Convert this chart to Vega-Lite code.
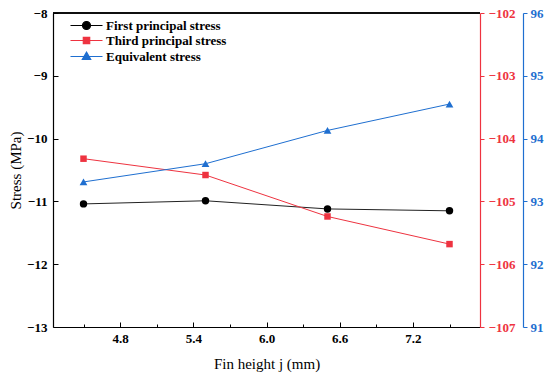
{
  "$schema": "https://vega.github.io/schema/vega-lite/v6.json",
  "width": 427,
  "height": 314,
  "autosize": "none",
  "padding": {"left": 53, "top": 13, "right": 70, "bottom": 50},
  "background": "white",
  "config": {
    "view": {"stroke": null},
    "font": "Liberation Serif",
    "axis": {
      "grid": false,
      "labelFont": "Liberation Serif",
      "labelFontWeight": "bold",
      "labelFontSize": 13,
      "titleFont": "Liberation Serif",
      "titleFontWeight": "normal",
      "titleFontSize": 15,
      "titleColor": "black",
      "domainWidth": 1.2,
      "tickWidth": 1,
      "labelFlush": false,
      "labelOverlap": false
    }
  },
  "data": {
    "values": [
      {"series": "First principal stress", "height": 4.5, "stress": -11.04},
      {"series": "First principal stress", "height": 5.5, "stress": -10.99},
      {"series": "First principal stress", "height": 6.5, "stress": -11.12},
      {"series": "First principal stress", "height": 7.5, "stress": -11.15},
      {"series": "Third principal stress", "height": 4.5, "stress": -104.32},
      {"series": "Third principal stress", "height": 5.5, "stress": -104.58},
      {"series": "Third principal stress", "height": 6.5, "stress": -105.24},
      {"series": "Third principal stress", "height": 7.5, "stress": -105.68},
      {"series": "Equivalent stress", "height": 4.5, "stress": 93.31},
      {"series": "Equivalent stress", "height": 5.5, "stress": 93.60},
      {"series": "Equivalent stress", "height": 6.5, "stress": 94.13},
      {"series": "Equivalent stress", "height": 7.5, "stress": 94.55}
    ]
  },
  "encoding": {
    "x": {
      "field": "height",
      "type": "quantitative",
      "scale": {"domain": [4.25, 7.75], "nice": false, "zero": false},
      "axis": {
        "title": "Fin height j (mm)",
        "values": [4.5, 4.8, 5.1, 5.4, 5.7, 6.0, 6.3, 6.6, 6.9, 7.2, 7.5],
        "labelExpr": "round(datum.value*10) % 6 == 0 ? format(datum.value, '.1f') : ''",
        "tickSize": {"condition": {"test": "round(datum.value*10) % 6 == 0", "value": -5}, "value": -3},
        "domainColor": "black",
        "tickColor": "black",
        "labelColor": "black",
        "labelFont": "Liberation Serif",
        "labelPadding": 10,
        "titlePadding": 9
      }
    }
  },
  "layer": [
    {
      "transform": [{"filter": "datum.series == 'First principal stress'"}],
      "encoding": {
        "y": {
          "field": "stress",
          "type": "quantitative",
          "scale": {"domain": [-13, -8], "nice": false, "zero": false},
          "axis": {
            "orient": "left",
            "title": "Stress (MPa)",
            "values": [-13, -12.5, -12, -11.5, -11, -10.5, -10, -9.5, -9, -8.5, -8],
            "format": "d",
            "labelExpr": "datum.value % 1 == 0 ? datum.label : ''",
            "tickSize": {"condition": {"test": "datum.value % 1 == 0", "value": -5}, "value": -3},
            "domainColor": "black",
            "tickColor": "black",
            "labelColor": "black",
            "labelFont": "Liberation Serif",
            "labelPadding": 11,
            "titlePadding": 3
          }
        }
      },
      "layer": [
        {
          "mark": {"type": "rule", "color": "black", "strokeWidth": 1.2},
          "encoding": {"x": {"datum": 4.25}, "x2": {"datum": 7.75}, "y": {"datum": -8}}
        },
        {"mark": {"type": "line", "color": "#222222", "strokeWidth": 1}},
        {"mark": {"type": "point", "shape": "circle", "filled": true, "color": "black", "size": 55, "opacity": 1}}
      ]
    },
    {
      "transform": [{"filter": "datum.series == 'Third principal stress'"}],
      "encoding": {
        "y": {
          "field": "stress",
          "type": "quantitative",
          "scale": {"domain": [-107, -102], "nice": false, "zero": false},
          "axis": {
            "orient": "right",
            "title": null,
            "values": [-107, -106.5, -106, -105.5, -105, -104.5, -104, -103.5, -103, -102.5, -102],
            "format": "d",
            "labelExpr": "datum.value % 1 == 0 ? datum.label : ''",
            "tickSize": {"condition": {"test": "datum.value % 1 == 0", "value": 4}, "value": -3},
            "domainColor": "#EE3340",
            "tickColor": "#EE3340",
            "labelColor": "#EE3340",
            "labelFont": "Liberation Serif",
            "labelPadding": 4
          }
        }
      },
      "layer": [
        {"mark": {"type": "line", "color": "#EE3340", "strokeWidth": 1}},
        {"mark": {"type": "point", "shape": "square", "filled": true, "color": "#EE3340", "size": 42, "opacity": 1}}
      ]
    },
    {
      "transform": [{"filter": "datum.series == 'Equivalent stress'"}],
      "encoding": {
        "y": {
          "field": "stress",
          "type": "quantitative",
          "scale": {"domain": [91, 96], "nice": false, "zero": false},
          "axis": {
            "orient": "right",
            "offset": 43,
            "title": null,
            "values": [91, 91.5, 92, 92.5, 93, 93.5, 94, 94.5, 95, 95.5, 96],
            "format": "d",
            "labelExpr": "datum.value % 1 == 0 ? datum.label : ''",
            "tickSize": {"condition": {"test": "datum.value % 1 == 0", "value": 4}, "value": -3},
            "domainColor": "#1F6FD0",
            "tickColor": "#1F6FD0",
            "labelColor": "#1F6FD0",
            "labelFont": "Liberation Serif",
            "labelPadding": 3
          }
        }
      },
      "layer": [
        {"mark": {"type": "line", "color": "#1F6FD0", "strokeWidth": 1}},
        {"mark": {"type": "point", "shape": "triangle-up", "filled": true, "color": "#1F6FD0", "size": 60, "opacity": 1}}
      ]
    },
    {
      "mark": {"type": "point", "filled": true, "opacity": 0},
      "encoding": {
        "y": {"field": "stress", "type": "quantitative", "axis": null},
        "color": {
          "field": "series",
          "type": "nominal",
          "scale": {"domain": ["First principal stress", "Third principal stress", "Equivalent stress"], "range": ["#000000", "#EE3340", "#1F6FD0"]},
          "legend": {
            "orient": "none", "legendX": 27, "legendY": 6, "title": null, "padding": 0,
            "symbolSize": 64, "symbolStrokeWidth": 1.2, "symbolOpacity": 1,
            "labelFont": "Liberation Serif", "labelFontWeight": "bold", "labelFontSize": 13, "labelColor": "black",
            "labelOffset": 13, "rowPadding": 1
          }
        },
        "stroke": {
          "field": "series",
          "type": "nominal",
          "scale": {"domain": ["First principal stress", "Third principal stress", "Equivalent stress"], "range": ["#000000", "#EE3340", "#1F6FD0"]},
          "legend": {
            "orient": "none", "legendX": 27, "legendY": 6, "title": null, "padding": 0,
            "symbolSize": 64, "symbolStrokeWidth": 1.2, "symbolOpacity": 1,
            "labelFont": "Liberation Serif", "labelFontWeight": "bold", "labelFontSize": 13, "labelColor": "black",
            "labelOffset": 13, "rowPadding": 1
          }
        },
        "shape": {
          "field": "series",
          "type": "nominal",
          "scale": {
            "domain": ["First principal stress", "Third principal stress", "Equivalent stress"],
            "range": [
              "M-4,0H4M1,0A1,1,0,1,1,-1,0A1,1,0,1,1,1,0Z",
              "M-4,0H4M-0.8,-0.8H0.8V0.8H-0.8Z",
              "M-4,0H4M0,-1.1L1.05,0.75H-1.05Z"
            ]
          },
          "legend": {
            "orient": "none", "legendX": 27, "legendY": 6, "title": null, "padding": 0,
            "symbolSize": 64, "symbolStrokeWidth": 1.2, "symbolOpacity": 1,
            "labelFont": "Liberation Serif", "labelFontWeight": "bold", "labelFontSize": 13, "labelColor": "black",
            "labelOffset": 13, "rowPadding": 1
          }
        }
      }
    }
  ],
  "resolve": {"scale": {"y": "independent"}}
}
